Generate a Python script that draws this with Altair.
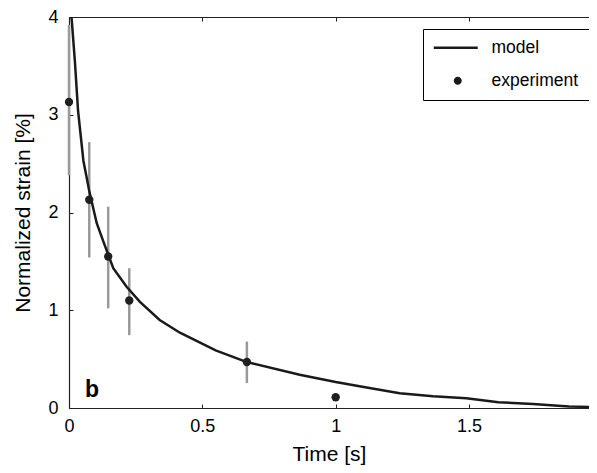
import altair as alt
import pandas as pd

# ---- data ----
model_t = [0.008, 0.01, 0.022, 0.034, 0.054, 0.076, 0.104, 0.128, 0.166, 0.216,
           0.266, 0.34, 0.416, 0.55, 0.667, 0.865, 1.0, 1.116, 1.24, 1.365,
           1.49, 1.61, 1.74, 1.875, 1.98]
model_y = [4.0, 3.98, 3.55, 3.04, 2.53, 2.22, 1.89, 1.71, 1.43, 1.24,
           1.085, 0.90, 0.77, 0.59, 0.47, 0.34, 0.265, 0.21, 0.15, 0.12,
           0.10, 0.06, 0.04, 0.015, 0.01]

exp_t = [0.0, 0.076, 0.147, 0.226, 0.667, 1.0]
exp_y = [3.13, 2.13, 1.55, 1.10, 0.47, 0.11]
err_lo = [2.38, 1.54, 1.02, 0.745, 0.255, None]
err_hi = [3.92, 2.72, 2.06, 1.43, 0.68, None]

series_names = ["model", "experiment"]
x_ticks = [0, 0.5, 1, 1.5]
y_ticks = [0, 1, 2, 3, 4]
panel_label = ["b"]
panel_label_t = [0.06]
panel_label_y = [0.11]

FONT = "Liberation Sans"
W, H = 520, 391
X_MAX = 1.95

model_df = pd.DataFrame({"t": model_t, "v": model_y})
exp_df = pd.DataFrame({"t": exp_t, "v": exp_y})
err_df = pd.DataFrame({"t": exp_t, "lo": err_lo, "hi": err_hi}).dropna()
leg_df = pd.DataFrame({"series": series_names})
lab_df = pd.DataFrame({"t": panel_label_t, "v": panel_label_y, "txt": panel_label})

xs = alt.Scale(domain=[0, X_MAX], nice=False, zero=False)
ys = alt.Scale(domain=[0, 4], nice=False)

# main layer: labelled axes (no ticks)
line = alt.Chart(model_df).mark_line(color="#1a1a1a", strokeWidth=2.5, clip=True).encode(
    x=alt.X("t:Q", scale=xs, axis=alt.Axis(
        orient="bottom", values=x_ticks, format="~g", ticks=False, grid=False,
        domain=True, labelFlush=False, title="Time [s]", labelPadding=9,
        titlePadding=8)),
    y=alt.Y("v:Q", scale=ys, axis=alt.Axis(
        orient="left", values=y_ticks, format="~g", ticks=False, grid=False,
        domain=True, labelFlush=False, title="Normalized strain [%]",
        labelPadding=11, titlePadding=14)),
)

# points layer: inward ticks for bottom & left sides
points = alt.Chart(exp_df).mark_circle(size=70, color="#1f1f1f", opacity=1).encode(
    x=alt.X("t:Q", scale=xs, axis=alt.Axis(
        orient="top", offset=-H, values=x_ticks, labels=False, ticks=True,
        tickSize=4, domain=False, grid=False, title=None)),
    y=alt.Y("v:Q", scale=ys, axis=alt.Axis(
        orient="right", offset=-W, values=y_ticks, labels=False, ticks=True,
        tickSize=4, domain=False, grid=False, title=None)),
)

# error bars layer: top border with inward ticks
errs = alt.Chart(err_df).mark_rule(color="#9a9a9a", strokeWidth=2.5).encode(
    x=alt.X("t:Q", scale=xs, axis=alt.Axis(
        orient="bottom", offset=-H, values=x_ticks, labels=False, ticks=True,
        tickSize=4, domain=True, grid=False, title=None)),
    y=alt.Y("lo:Q", scale=ys, axis=None),
    y2="hi:Q",
)

label = alt.Chart(lab_df).mark_text(
    fontSize=23, fontWeight="bold", font=FONT, align="left",
    baseline="alphabetic", color="black").encode(
    x=alt.X("t:Q", scale=xs, axis=None),
    y=alt.Y("v:Q", scale=ys, axis=None),
    text="txt:N",
)

line_sym = "M-2,-0.3H9V0.3H-2Z"
dot_sym = "M3,0A1,1 0 1,0 5,0A1,1 0 1,0 3,0Z"

legend_layer = alt.Chart(leg_df).mark_point(
    filled=True, color="#1a1a1a", opacity=1
).encode(
    shape=alt.Shape("series:N", scale=alt.Scale(domain=series_names,
                                                 range=[line_sym, dot_sym]),
                    legend=alt.Legend(
                        title=None, orient="none", legendX=354, legendY=12,
                        strokeColor="black", padding=10, fillColor="white",
                        symbolSize=64, labelOffset=41, labelFontSize=17.5,
                        labelFont=FONT, labelColor="black", rowPadding=14,
                        symbolFillColor="#1a1a1a", symbolStrokeWidth=0,
                        symbolOpacity=1)),
).transform_filter("false")

chart = alt.layer(errs, line, points, label, legend_layer).resolve_axis(
    x="independent", y="independent"
).properties(
    width=W, height=H,
    autosize=alt.AutoSizeParams(type="none"),
    padding={"left": 61, "top": 9, "right": 0, "bottom": 57},
).configure_view(stroke=None).configure_axis(
    labelFont=FONT, titleFont=FONT, labelFontSize=18, titleFontSize=21,
    labelColor="black", titleColor="black", domainColor="#222222",
    tickColor="#222222", titleFontWeight="normal", domainWidth=1.2,
)

chart.save("out.html", embed_options={"renderer": "svg", "actions": False})
